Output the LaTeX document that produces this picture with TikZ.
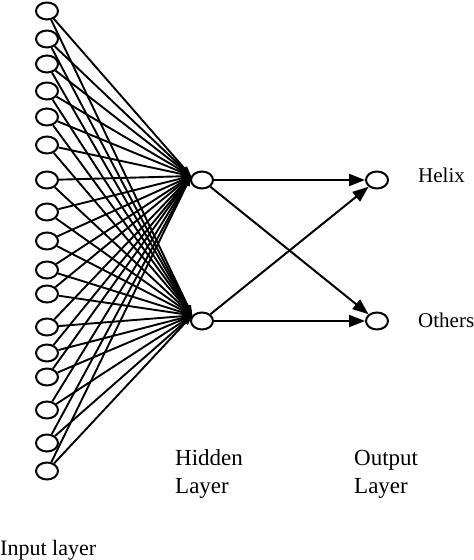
\documentclass[tikz,border=0pt]{standalone}
\usepackage{fontspec}
\setmainfont{Liberation Serif}
\usetikzlibrary{arrows.meta,shapes.geometric}
\begin{document}
\begin{tikzpicture}[x=1pt,y=1pt,
  neuron/.style={draw,ellipse,line width=2pt,minimum width=22pt,minimum height=17pt,inner sep=0pt},
  conn/.style={line width=1.9pt,-{Triangle[length=10pt,width=6pt]}},
  link/.style={line width=2pt,-{Triangle[length=16pt,width=12pt]}},
  lbl/.style={anchor=base west,inner sep=0pt,font=\fontsize{23}{27}\selectfont},
  sidelbl/.style={anchor=base west,inner sep=0pt,font=\fontsize{21}{25}\selectfont}]
\useasboundingbox (0,0) rectangle (474,560);
\foreach \i/\y in {1/549,2/521,3/496,4/469,5/443,6/415,7/380,8/348,9/319,10/290,11/266,12/233,13/207,14/183,15/150,16/117,17/89}
  \node[neuron] (in\i) at (47,\y) {};
\node[neuron] (h1) at (202,380) {};
\node[neuron] (h2) at (202,239) {};
\node[neuron] (o1) at (377,380) {};
\node[neuron] (o2) at (377,239) {};
\foreach \i in {1,...,17} {
  \draw[conn] (in\i) -- (h1.160);
  \draw[conn] (in\i) -- (h2.150);
}
\draw[link] (h1.east) -- (o1.west);
\draw[link] (h1) -- (o2);
\draw[link] (h2) -- (o1);
\draw[link] (h2.east) -- (o2.west);
\node[sidelbl] (helix) at (418,377) {Helix};
\node[sidelbl] (others) at (418,232) {Others};
\node[lbl] (hid1) at (175,94) {Hidden};
\node[lbl] (hid2) at (175,66) {Layer};
\node[lbl] (out1) at (354,94) {Output};
\node[lbl] (out2) at (354,66) {Layer};
\node[anchor=base west,inner sep=0pt,font=\fontsize{22}{26}\selectfont] (inl) at (0,5) {Input layer};
\end{tikzpicture}
\end{document}
